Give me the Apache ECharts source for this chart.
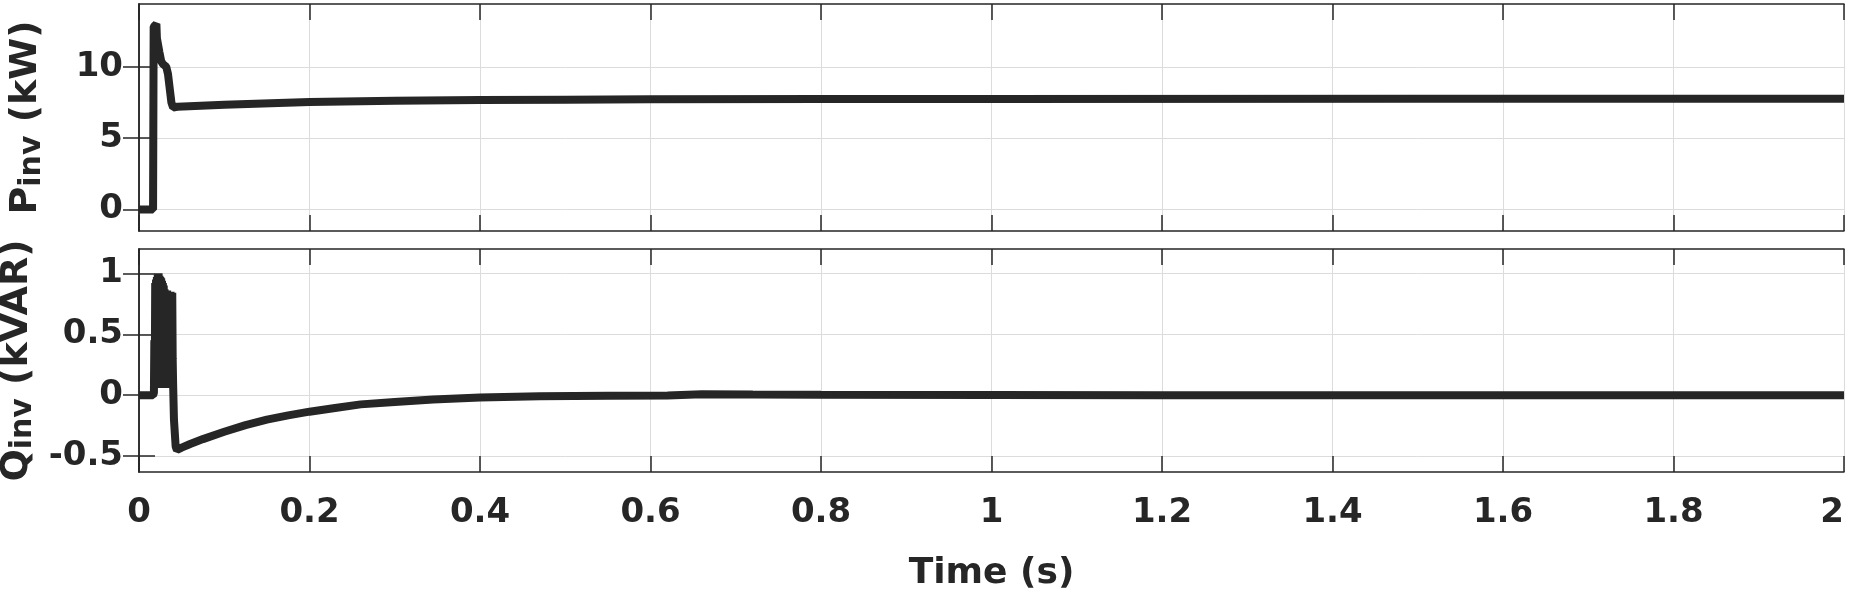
<!DOCTYPE html>
<html>
<head>
<meta charset="utf-8">
<script src="https://cdn.jsdelivr.net/npm/echarts@6/dist/echarts.min.js"></script>
<style>
  html, body { margin: 0; padding: 0; background: #fff; }
  #main { width: 1852px; height: 594px; }
</style>
</head>
<body>
<div id="main"></div>
<script>
// P_inv (kW)
var pTime = [0, 0.0165, 0.0172, 0.019, 0.0204, 0.021, 0.024, 0.026, 0.028, 0.030, 0.032, 0.034, 0.036, 0.038, 0.040,
  0.045, 0.1, 0.2, 0.3, 0.4, 0.5, 0.6, 0.8, 1.0, 1.5, 2.0];
var pVals = [0, 0, 12.8, 12.7, 13.0, 12.0, 11.0, 10.4, 10.2, 10.1, 10.0, 9.5, 8.5, 7.5, 7.15,
  7.2, 7.35, 7.54, 7.62, 7.67, 7.7, 7.73, 7.75, 7.75, 7.76, 7.76];

// Q_inv (kVAR) (dense ripple between 0.017 s and 0.040 s)
var qTime = [0, 0.0165, 0.0175, 0.018, 0.0185, 0.019, 0.0195, 0.020, 0.0205, 0.021, 0.0215, 0.022, 0.0225,
  0.023, 0.0235, 0.024, 0.0245, 0.025, 0.0255, 0.026, 0.0265, 0.027, 0.0275, 0.028, 0.0285, 0.029, 0.0295,
  0.030, 0.0305, 0.031, 0.0315, 0.032, 0.0325, 0.033, 0.0335, 0.034, 0.0345, 0.035, 0.0355, 0.036, 0.0365,
  0.037, 0.0375, 0.038, 0.0385, 0.039, 0.0395, 0.040, 0.041, 0.043, 0.0445,
  0.05, 0.06, 0.075, 0.1, 0.125, 0.15, 0.175, 0.2, 0.23, 0.26, 0.3, 0.345, 0.4, 0.47, 0.55, 0.62,
  0.66, 0.72, 0.8, 1.0, 1.2, 1.5, 2.0];
var qVals = [0, 0, 0.02, 0.45, 0.1, 0.92, 0.12, 0.95, 0.08, 0.97, 0.1, 0.99, 0.07, 1.0, 0.09, 0.98, 0.06,
  0.97, 0.1, 0.96, 0.08, 0.94, 0.1, 0.92, 0.12, 0.9, 0.08,
  0.87, 0.1, 0.86, 0.07, 0.86, 0.09, 0.86, 0.06, 0.85, 0.1, 0.85, 0.07, 0.85, 0.08,
  0.85, 0.06, 0.84, 0.1, 0.84, 0.3, 0.1, -0.2, -0.42, -0.45,
  -0.43, -0.40, -0.36, -0.30, -0.245, -0.2, -0.165, -0.135, -0.105, -0.075, -0.055, -0.035, -0.018, -0.008, -0.004, -0.002,
  0.008, 0.006, 0.004, 0.002, 0, 0, 0];

var pTicks = [0, 5, 10];
var qTicks = [-0.5, 0, 0.5, 1];
var xRange = [0, 2];
var xStep = 0.2;

var ink = '#262626';
var font = 'DejaVu Sans';

function zip(t, v) {
  return t.map(function (x, i) { return [x, v[i]]; });
}

function xAxisFor(grid, pos, labels) {
  return {
    type: 'value', gridIndex: grid, position: pos,
    min: xRange[0], max: xRange[1], interval: xStep,
    axisLine: { show: true, onZero: false, lineStyle: { color: ink, width: 1.5 } },
    axisTick: { show: true, inside: true, length: 16, lineStyle: { color: ink, width: 1.5 } },
    axisLabel: {
      show: labels, margin: 24, color: ink, fontFamily: font, fontWeight: 'bold', fontSize: 34,
      alignMaxLabel: 'right',
      formatter: function (v) { return +v.toFixed(1) + ''; }
    },
    splitLine: { show: pos === 'bottom', lineStyle: { color: '#dcdcdc', width: 1 } }
  };
}

function yAxisFor(grid, pos, range, ticks, name) {
  return {
    type: 'value', gridIndex: grid, position: pos,
    min: range[0], max: range[1],
    name: pos === 'left' ? name : '',
    nameLocation: 'middle', nameGap: 92, nameRotate: 90,
    nameTextStyle: {
      color: ink, fontFamily: font, fontWeight: 'bold',
      rich: {
        a: { fontSize: 38, fontWeight: 'bold', fontFamily: font, color: ink, verticalAlign: 'top', lineHeight: 40 },
        b: { fontSize: 30, fontWeight: 'bold', fontFamily: font, color: ink, verticalAlign: 'bottom', lineHeight: 31, padding: [20, 0, 0, 0] }
      }
    },
    axisLine: { show: true, lineStyle: { color: ink, width: 1.5 } },
    axisTick: { show: true, inside: true, length: 16, customValues: ticks, lineStyle: { color: ink, width: 1.5 } },
    axisLabel: {
      show: pos === 'left', customValues: ticks, margin: 16, color: ink,
      fontFamily: font, fontWeight: 'bold', fontSize: 34
    },
    splitLine: { show: pos === 'left', lineStyle: { color: '#dcdcdc', width: 1 } }
  };
}

var chart = echarts.init(document.getElementById('main'), null, { renderer: 'canvas' });

var option = {
  animation: false,
  backgroundColor: '#fff',
  grid: [
    { left: 139, right: 8, top: 4, height: 227, outerBoundsMode: 'none', containLabel: false },
    { left: 139, right: 8, top: 249, height: 223, outerBoundsMode: 'none', containLabel: false }
  ],
  xAxis: [
    xAxisFor(0, 'bottom', false),
    xAxisFor(0, 'top', false),
    Object.assign(xAxisFor(1, 'bottom', true), {
      name: 'Time (s)', nameLocation: 'middle', nameGap: 84,
      nameTextStyle: { color: ink, fontFamily: font, fontWeight: 'bold', fontSize: 36 }
    }),
    xAxisFor(1, 'top', false)
  ],
  yAxis: [
    yAxisFor(0, 'left', [-1.5, 14.4], pTicks, '{a|P}{b|inv}{a| (kW)}'),
    yAxisFor(0, 'right', [-1.5, 14.4], pTicks, ''),
    yAxisFor(1, 'left', [-0.63, 1.2], qTicks, '{a|Q}{b|inv}{a| (kVAR)}'),
    yAxisFor(1, 'right', [-0.63, 1.2], qTicks, '')
  ],
  series: [
    {
      type: 'line', xAxisIndex: 0, yAxisIndex: 0, data: zip(pTime, pVals),
      showSymbol: false, lineStyle: { color: ink, width: 8 }, clip: true
    },
    {
      type: 'line', xAxisIndex: 2, yAxisIndex: 2, data: zip(qTime, qVals),
      showSymbol: false, lineStyle: { color: ink, width: 8 }, clip: true
    }
  ]
};

chart.setOption(option);
</script>
</body>
</html>
